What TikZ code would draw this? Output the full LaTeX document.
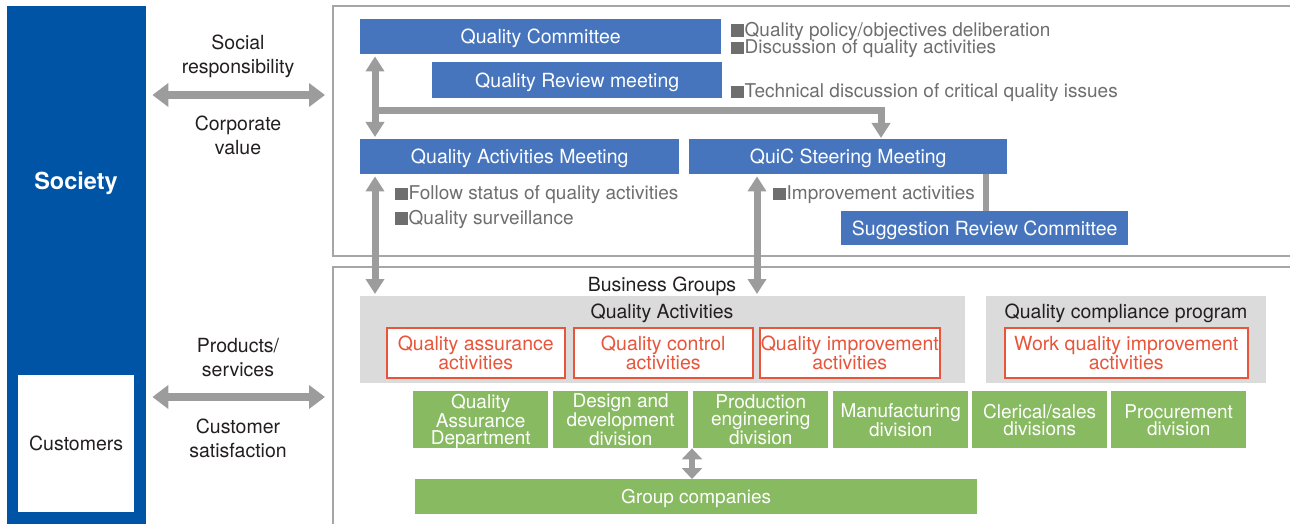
\documentclass[tikz,border=0pt]{standalone}
\usepackage{fontspec}
\setmainfont{TeX Gyre Heros}
\usetikzlibrary{positioning,calc,arrows.meta}
\definecolor{socblue}{HTML}{0054A6}
\definecolor{boxblue}{HTML}{4775BD}
\definecolor{linkgray}{HTML}{9C9C9C}
\definecolor{framegray}{HTML}{A6A6A6}
\definecolor{panelgray}{HTML}{DBDBDB}
\definecolor{actred}{HTML}{E8553A}
\definecolor{divgreen}{HTML}{88BA62}
\definecolor{txtdark}{HTML}{231F20}
\definecolor{notegray}{HTML}{6E6E6E}
\newcommand{\notesq}{\textcolor{notegray}{\rule[-0.5pt]{12.5pt}{12.5pt}}\kern1pt}

\begin{document}
\begin{tikzpicture}[x=1pt, y=-1pt,
  basefont/.style={font=\fontsize{19.5}{24}\selectfont},
  sidelabel/.style={basefont, text=txtdark, align=center, inner sep=0pt, text depth=0pt},
  notetext/.style={font=\fontsize{19}{24}\selectfont, text=notegray, anchor=west, inner sep=0pt},
  bluebox/.style={basefont, fill=boxblue, text=white, anchor=north west, inner sep=0pt, minimum height=35pt,
    text height=14pt, text depth=0pt},
  panel/.style={fill=panelgray, anchor=north west, inner sep=0pt, minimum height=87pt},
  redbox/.style={font=\fontsize{19.5}{18}\selectfont, fill=white, draw=actred, line width=1.5pt, text=actred,
    align=center, anchor=north west, inner sep=0pt, minimum height=50pt},
  greenbox/.style={font=\fontsize{19}{17}\selectfont, fill=divgreen, text=white, align=center,
    anchor=north west, inner sep=0pt, minimum width=135pt, minimum height=57pt, text depth=0pt},
  bigarrow/.style={linkgray, line width=8pt, {Triangle[width=23pt,length=16pt]}-{Triangle[width=23pt,length=16pt]}},
  linkarrow/.style={linkgray, line width=7pt, -{Triangle[width=18pt,length=15pt]}},
  duallink/.style={linkgray, line width=7pt, {Triangle[width=18pt,length=15pt]}-{Triangle[width=18pt,length=15pt]}},
]
\useasboundingbox (0,0) rectangle (1290,524);

% Society column
\node[fill=socblue, anchor=north west, inner sep=0pt, minimum width=139pt, minimum height=534pt] (society) at (7,6) {};
\node[font=\fontsize{23.5}{28}\selectfont\bfseries, text=white, text depth=0pt] (soclabel) at (76,181) {Society};
\node[basefont, fill=white, text=txtdark, anchor=north west, inner sep=0pt, minimum width=116pt, minimum height=137pt] (customers) at (18,375) {Customers};

% frames
\draw[framegray, line width=2.5pt] (1292,6) -- (333,6) -- (333,256) -- (1292,256);
\draw[framegray, line width=2.5pt] (1292,267) -- (333,267) -- (333,530);

% relations with society
\coordinate (row1) at (325,95);
\coordinate (row2) at (325,397);
\draw[bigarrow, shorten <=6pt] (society.east |- row1) -- (row1);
\draw[bigarrow, shorten <=6pt] (society.east |- row2) -- (row2);
\node[sidelabel] (respons) at (238,54) {Social\\responsibility};
\node[sidelabel] (corpval) at (238,135) {Corporate\\value};
\node[sidelabel] (products) at (238,357) {Products/\\services};
\node[sidelabel] (custsat) at (238,438) {Customer\\satisfaction};

% meetings
\node[bluebox, minimum width=361pt] (qc) at (360,19) {Quality Committee};
\node[bluebox, minimum width=290pt, minimum height=36pt] (qrm) at (432,62) {Quality Review meeting};
\node[bluebox, minimum width=319pt] (qam) at (360,139) {Quality Activities Meeting};
\node[bluebox, minimum width=318pt] (quic) at (689,139) {QuiC Steering Meeting};
\node[bluebox, minimum width=287pt, minimum height=34pt] (src) at (841,211) {Suggestion Review Committee};

\node[notetext] (note1) at (731,31) {\notesq Quality policy/objectives deliberation};
\node[notetext] (note2) at (731,49) {\notesq Discussion of quality activities};
\node[notetext] (note3) at (731,93) {\notesq Technical discussion of critical quality issues};
\node[notetext] (note4) at (395,195) {\notesq Follow status of quality activities};
\node[notetext] (note5) at (395,219) {\notesq Quality surveillance};
\node[notetext] (note6) at (773,195) {\notesq Improvement activities};

% business groups
\node[basefont, text=txtdark, inner sep=0pt] (bgroups) at (662,286) {Business Groups};
\node[panel, minimum width=605pt] (qagroup) at (360,296) {};
\node[panel, minimum width=280pt] (qcpgroup) at (986,296) {};
\node[basefont, text=txtdark, inner sep=0pt] (qatitle) at (662,313) {Quality Activities};
\node[basefont, text=txtdark, inner sep=0pt] (qcptitle) at (1126,313) {Quality compliance program};
\node[redbox, minimum width=178pt] (qaa) at (386,327) {Quality assurance\\activities};
\node[redbox, minimum width=179pt] (qca) at (573,327) {Quality control\\activities};
\node[redbox, minimum width=180pt] (qia) at (759,327) {Quality improvement\\activities};
\node[redbox, minimum width=243pt] (wqi) at (1004,327) {Work quality improvement\\activities};

\foreach \i/\gx/\txt in {%
  1/413/{Quality\\Assurance\\Department},
  2/553/{Design and\\development\\division},
  3/693/{Production\\engineering\\division},
  4/833/{Manufacturing\\division},
  5/972/{Clerical/sales\\divisions},
  6/1111/{Procurement\\division}%
} {
  \node[greenbox] (div\i) at (\gx,391) {\txt};
}
\node[greenbox, font=\fontsize{19}{22}\selectfont, minimum width=562pt, minimum height=35pt, text height=14pt] (gc) at (415,479) {Group companies};

% links
\draw[duallink, shorten <=2pt, shorten >=2pt] ([xshift=15pt]qc.south west) -- ([xshift=15pt]qam.north west);
\coordinate (branch) at (375,110.5);
\draw[linkarrow, shorten >=1pt] (branch) -| ([xshift=192pt]quic.north west);
\draw[duallink, shorten <=2pt, shorten >=2pt] ([xshift=15pt]qam.south west) -- ([xshift=15pt]qagroup.north west);
\coordinate (quicdown) at ([xshift=68pt]quic.south west);
\draw[duallink, shorten <=2pt, shorten >=2pt] (quicdown) -- (quicdown |- qagroup.north);
\coordinate (quicbar) at ([xshift=-21pt]quic.south east);
\draw[linkgray, line width=6pt] (quicbar) -- (quicbar |- src.north);
\coordinate (gclink) at ([xshift=277pt]gc.north west);
\draw[linkgray, line width=6pt, {Triangle[width=20pt,length=11pt]}-{Triangle[width=20pt,length=11pt]}] (gclink) -- (gclink |- div2.south);
\end{tikzpicture}
\end{document}
